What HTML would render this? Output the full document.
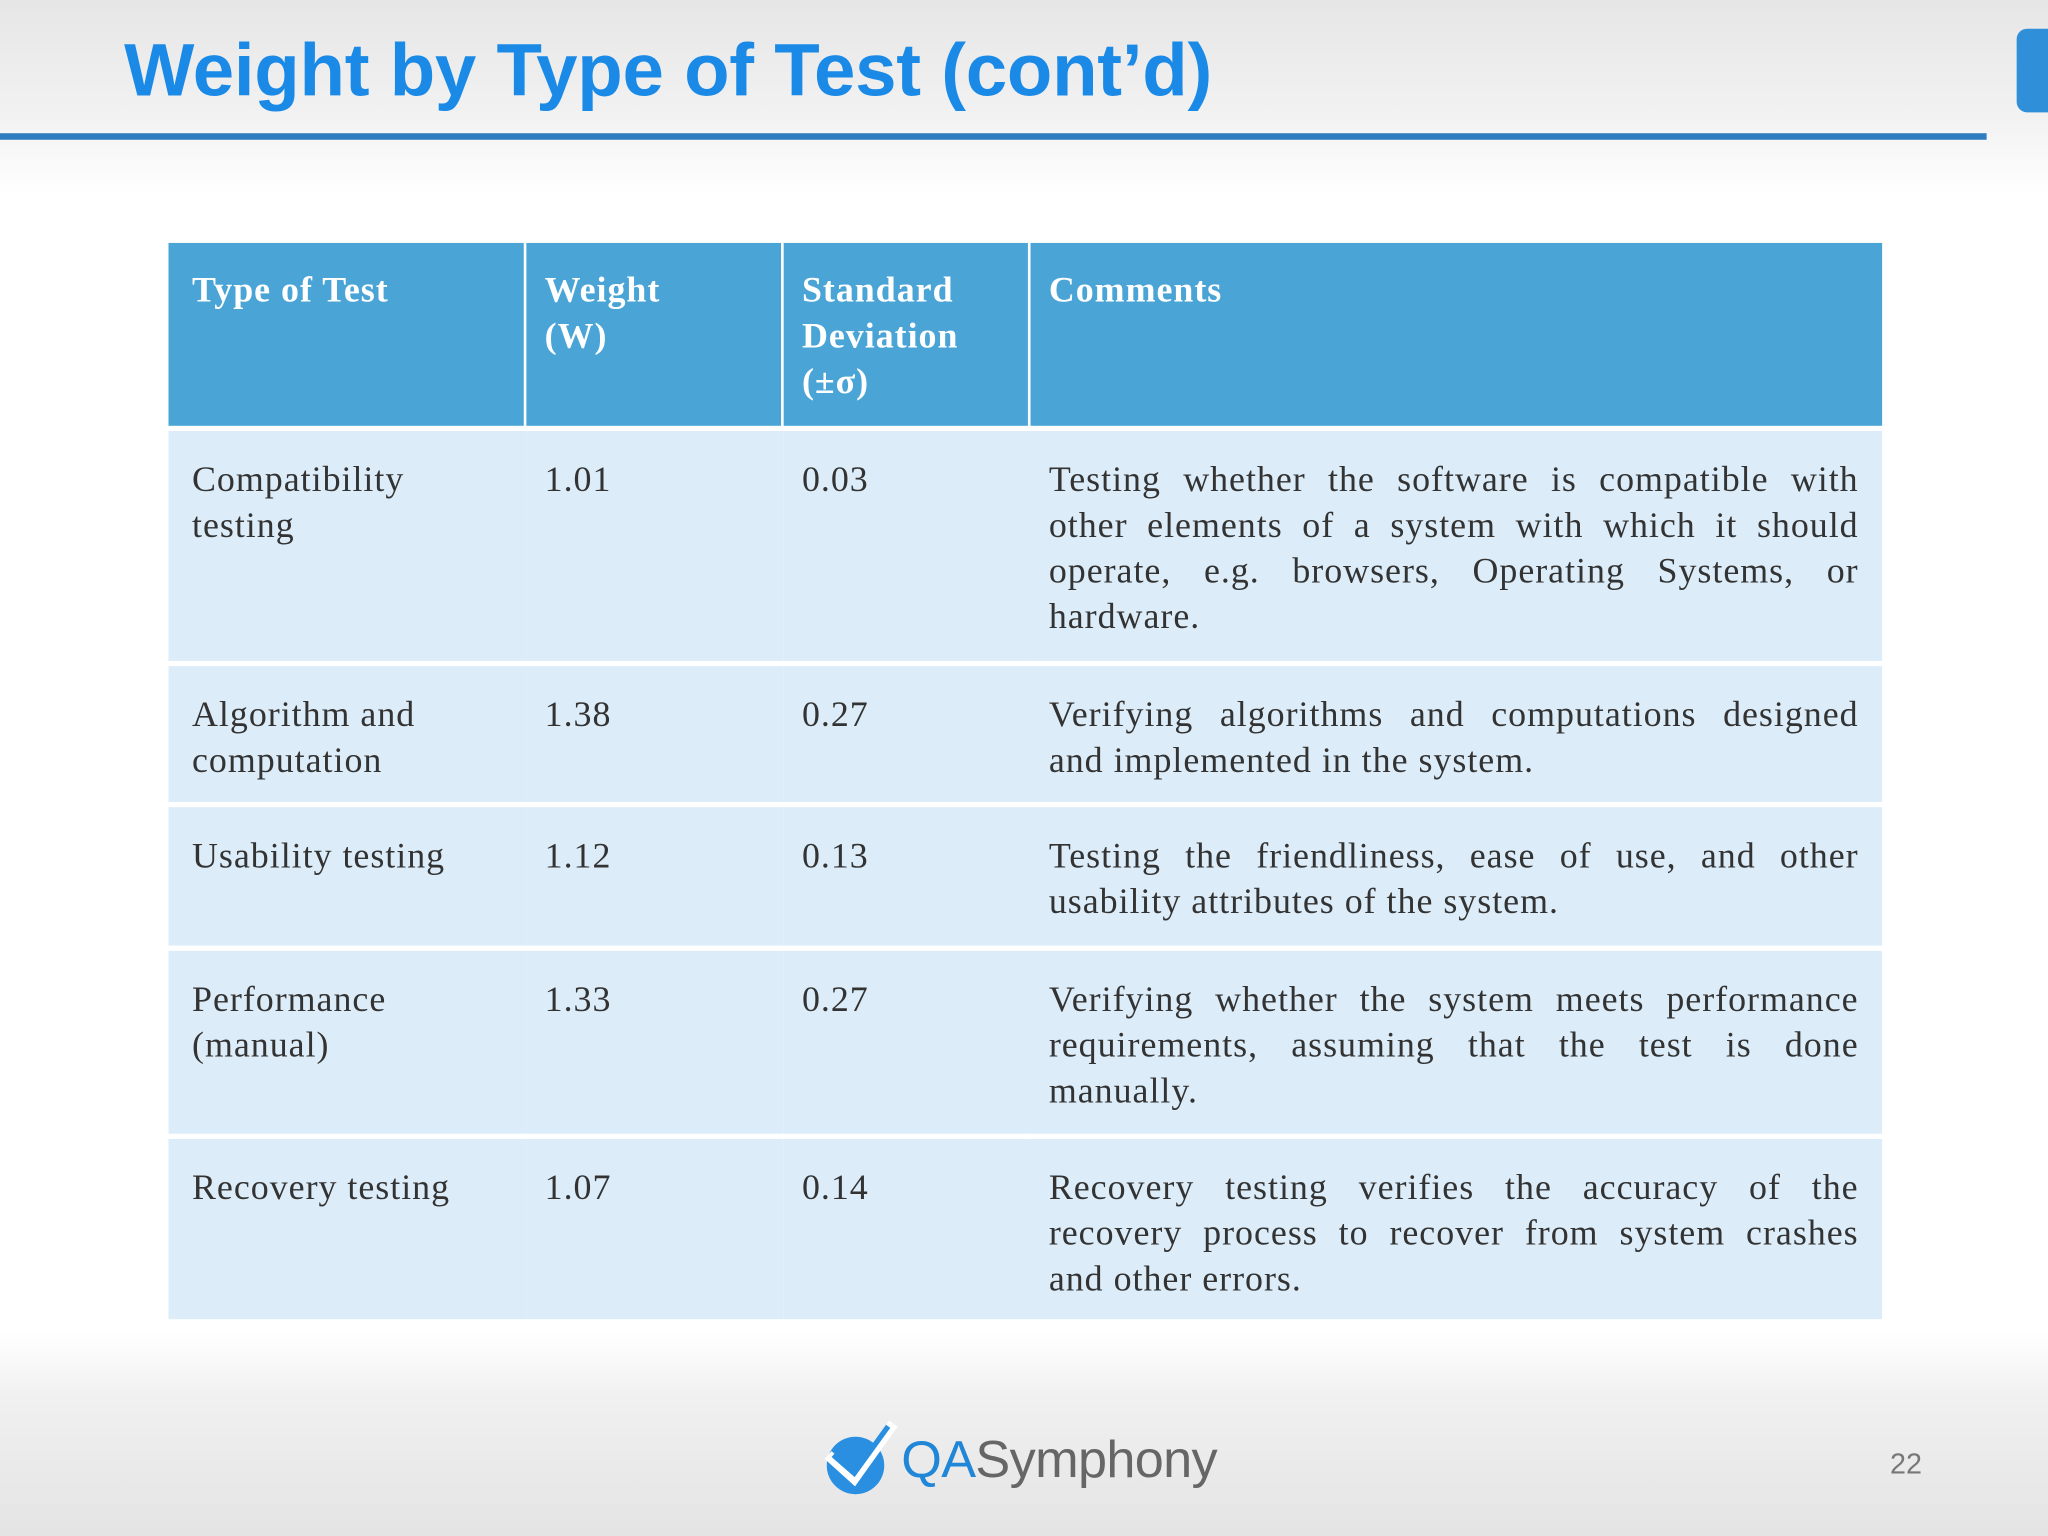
<!DOCTYPE html>
<html><head><meta charset="utf-8"><style>
html,body{margin:0;padding:0;width:2048px;height:1536px;overflow:hidden;background:#fff}
#s{position:absolute;left:0;top:0;width:1568px;height:1176px;transform:scale(1.306122);transform-origin:0 0;
background:linear-gradient(#e6e6e6 0,#f2f2f2 90px,#fff 150px,#fff 1020px,#f0f0f0 1070px,#e4e4e4 1176px);font-family:"Liberation Serif",serif}
.t{position:absolute;left:95px;top:21px;font-family:"Liberation Sans",sans-serif;font-weight:bold;font-size:57px;color:#1a8ae6;letter-spacing:-0.2px}
.c{position:absolute;box-sizing:border-box;padding:0 18px 0 14px;font-size:27.5px;line-height:35px;color:#333;letter-spacing:0.75px}
.c0{padding-left:18px}
.h{color:#fff;font-weight:bold;background:#4aa5d6}
.r{background:#dcedf9}
.ln{white-space:nowrap;text-align:justify;text-align-last:justify}
.ln.last{text-align-last:left}
</style></head><body><div id="s">
<div class="t">Weight by Type of Test (cont’d)</div>
<div style="position:absolute;left:0;top:102px;width:1521px;height:5px;background:#2d7cbf"></div>
<div style="position:absolute;left:1544px;top:22px;width:40px;height:64px;border-radius:8px;background:#2f8fd8"></div>
<div id="tb"></div>
<div style="position:absolute;left:628px;top:1086px;width:320px;height:62px">
<svg width="60" height="62" style="position:absolute;left:0;top:0"><circle cx="27" cy="36" r="22" fill="#2a8fe0"/><path d="M6 28 L26 46 L56 4" stroke="#fff" stroke-width="8" fill="none"/><path d="M10 28 L26 42 L52 6" stroke="#2a8fe0" stroke-width="4" fill="none"/></svg>
<span style="position:absolute;left:62px;top:10px;font-family:'Liberation Sans',sans-serif;font-size:40px;color:#1f86d8;letter-spacing:-0.5px">QA<span style="color:#666">Symphony</span></span></div>
<div style="position:absolute;left:1447px;top:1108px;font-family:'Liberation Sans',sans-serif;font-size:22px;color:#777">22</div>
</div>
<script>
const labels=["Compatibility<br>testing","Algorithm and<br>computation","Usability testing","Performance<br>(manual)","Recovery testing"];
const weights=["1.01","1.38","1.12","1.33","1.07"];
const sds=["0.03","0.27","0.13","0.27","0.14"];
const comments=[
["Testing whether the software is compatible with","other elements of a system with which it should","operate, e.g. browsers, Operating Systems, or","hardware."],
["Verifying algorithms and computations designed","and implemented in the system."],
["Testing the friendliness, ease of use, and other","usability attributes of the system."],
["Verifying whether the system meets performance","requirements, assuming that the test is done","manually."],
["Recovery testing verifies the accuracy of the","recovery process to recover from system crashes","and other errors."]];
const xs=[129,403,600,789,1441];
const rowsY=[[186,326],[330,506],[510,614],[618,724],[728,868],[872,1010]];
const tb=document.getElementById('tb');
function cell(ci,ri,html,cls,name){const d=document.createElement('div');d.className='c c'+ci+' '+cls;


const y=rowsY[ri];d.style.left=xs[ci]+'px';d.style.width=(xs[ci+1]-xs[ci]-(ri==0&&ci<3?2:0))+'px';d.style.top=y[0]+'px';d.style.height=(y[1]-y[0])+'px';d.style.paddingTop=(ri==0?18:19)+'px';d.innerHTML=html;tb.appendChild(d);}
const hd=["Type of Test","Weight<br>(W)","Standard<br>Deviation<br>(±σ)","Comments"];
hd.forEach((h,i)=>cell(i,0,h,'h','header-cell'));
labels.forEach((t,i)=>{cell(0,i+1,t,'r','type-cell');
cell(1,i+1,weights[i],'r','weight-cell');cell(2,i+1,sds[i],'r','sd-cell');
const html=comments[i].map((l,k)=>'<div class="ln'+(k==comments[i].length-1?' last':'')+'">'+l+'</div>').join('');
cell(3,i+1,html,'r','comment-cell');});
</script></body></html>
